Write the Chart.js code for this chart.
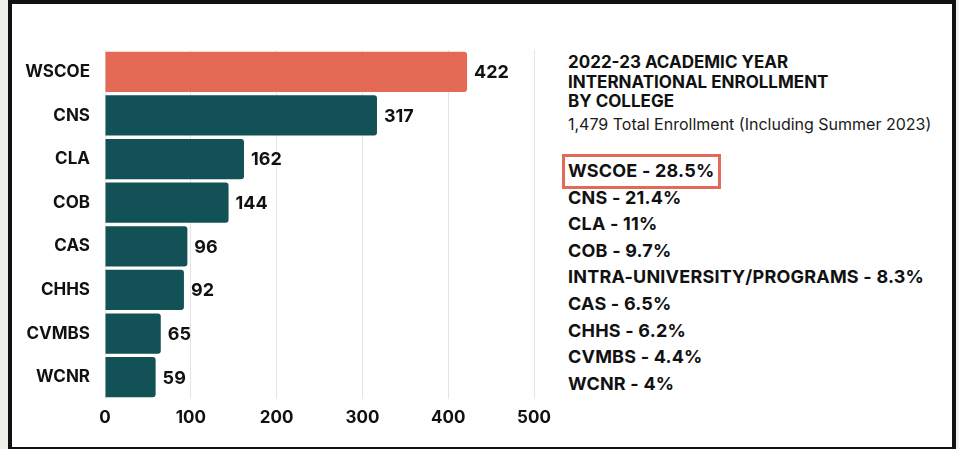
<!DOCTYPE html>
<html>
<head>
<meta charset="utf-8">
<script src="https://cdn.jsdelivr.net/npm/chart.js@4"></script>
<style>
  html, body { margin: 0; padding: 0; }
  body { width: 959px; height: 449px; background: #eff1ea; position: relative; overflow: hidden; font-family: Inter, sans-serif; color: #111; }
  #panel { position: absolute; left: 8px; top: 0; width: 948px; height: 451px; box-sizing: border-box; border: 4px solid #111; background: #fff; }
  #wrap { position: absolute; left: 0; top: 0; width: 560px; height: 449px; }
  #side { position: absolute; left: 568px; top: 0; }
  #title { position: absolute; top: 53px; left: 0; width: 380px; font-weight: 700; font-size: 17px; line-height: 19.5px; }
  #sub { position: absolute; top: 115px; left: 0; white-space: nowrap; font-size: 16px; line-height: 19px; color: #1a1a1a; }
  #list { position: absolute; top: 158px; left: 0; white-space: nowrap; font-weight: 700; font-size: 18px; letter-spacing: 0.2px; line-height: 26.6px; }
  #list .hl { width: fit-content; margin: -4px 0 -4px -6px; padding: 1px 4px 1px 3px; border: 3px solid #e36a56; }
</style>
</head>
<body>
<div id="panel"></div>
<div id="wrap"><canvas id="bars"></canvas></div>
<div id="side">
  <div id="title">2022-23 ACADEMIC YEAR<br>INTERNATIONAL ENROLLMENT<br>BY COLLEGE</div>
  <div id="sub">1,479 Total Enrollment (Including Summer 2023)</div>
  <div id="list"></div>
</div>
<script>
const colleges = ["WSCOE", "CNS", "CLA", "COB", "CAS", "CHHS", "CVMBS", "WCNR"];
const enrollment = [422, 317, 162, 144, 96, 92, 65, 59];
const shareNames = ["WSCOE", "CNS", "CLA", "COB", "INTRA-UNIVERSITY/PROGRAMS", "CAS", "CHHS", "CVMBS", "WCNR"];
const sharePct = ["28.5%", "21.4%", "11%", "9.7%", "8.3%", "6.5%", "6.2%", "4.4%", "4%"];
const xMax = 500;
const xStep = 100;

const list = document.getElementById("list");
shareNames.forEach((n, i) => {
  const d = document.createElement("div");
  d.textContent = `${n} - ${sharePct[i]}`;
  if (i === 0) d.className = "hl";
  list.appendChild(d);
});

// numbers at the end of each bar
const valueLabels = {
  id: "valueLabels",
  afterDatasetsDraw(chart) {
    const { ctx } = chart;
    const meta = chart.getDatasetMeta(0);
    ctx.save();
    ctx.font = "700 18px Inter";
    ctx.fillStyle = "#111";
    ctx.textBaseline = "middle";
    ctx.textAlign = "left";
    meta.data.forEach((bar, i) => {
      ctx.fillText(enrollment[i], bar.x + 7, bar.y + 1);
    });
    ctx.restore();
  }
};

new Chart(document.getElementById("bars"), {
  type: "bar",
  data: {
    labels: colleges,
    datasets: [{
      data: enrollment,
      backgroundColor: colleges.map((c, i) => i === 0 ? "#e46a56" : "#125257"),
      borderRadius: 3,
      borderSkipped: "start",
      barPercentage: 0.92,
      categoryPercentage: 1
    }]
  },
  options: {
    indexAxis: "y",
    responsive: true,
    maintainAspectRatio: false,
    animation: false,
    layout: { padding: { top: 50, right: 26, bottom: 10, left: 0 } },
    plugins: { legend: { display: false }, tooltip: { enabled: false } },
    scales: {
      x: {
        min: 0,
        max: xMax,
        ticks: { stepSize: xStep, padding: 9, color: "#111", font: { family: "Inter", weight: "700", size: 17 } },
        grid: { color: "#e4e4e4", drawTicks: false },
        border: { display: false },
        afterFit: s => { s.height = 40; }
      },
      y: {
        ticks: { padding: 15, color: "#111", font: { family: "Inter", weight: "700", size: 17 } },
        grid: { display: false, drawTicks: false },
        border: { display: false },
        afterFit: s => { s.width = 105; }
      }
    }
  },
  plugins: [valueLabels]
});
</script>
</body>
</html>
